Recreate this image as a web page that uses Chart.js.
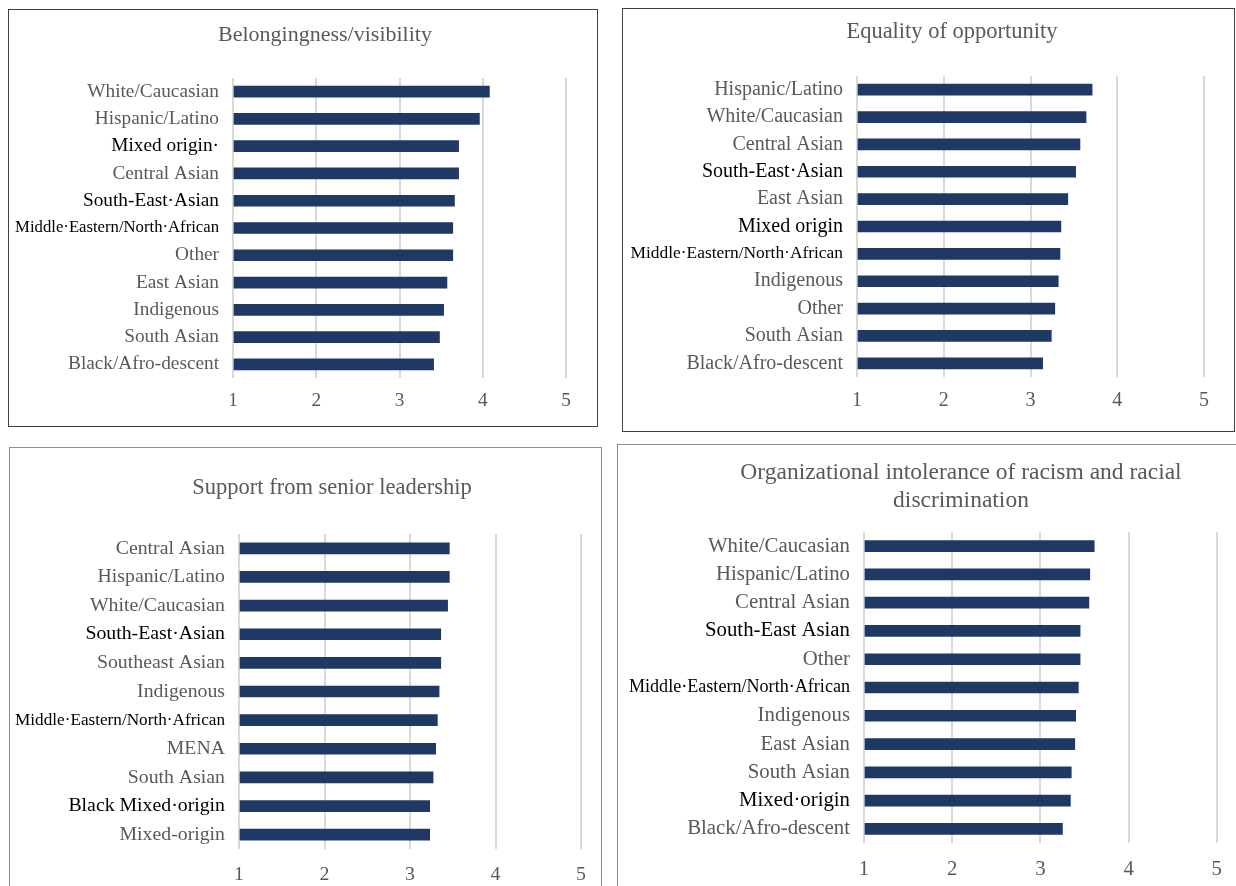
<!DOCTYPE html>
<html>
<head>
<meta charset="utf-8">
<script src="https://cdn.jsdelivr.net/npm/chart.js@4.4.1/dist/chart.umd.min.js"></script>
<style>
  html, body { margin: 0; padding: 0; background: #fff; overflow: hidden; }
  body { width: 1236px; height: 886px; position: relative; }
  .panel { position: absolute; border: 1px solid #404040; box-sizing: content-box; }
  .panel.light { border-color: #8c8c8c; }
  canvas { display: block; }
</style>
</head>
<body>
<div class="panel" id="p1" style="left:8px;top:9px;width:588px;height:416px;"><canvas id="chart1" width="588" height="416"></canvas></div>
<div class="panel" id="p2" style="left:622px;top:8px;width:611px;height:422px;"><canvas id="chart2" width="611" height="422"></canvas></div>
<div class="panel light" id="p3" style="left:9px;top:447px;width:591px;height:445px;"><canvas id="chart3" width="591" height="438"></canvas></div>
<div class="panel light" id="p4" style="left:617px;top:444px;width:618px;height:450px;"><canvas id="chart4" width="618" height="441"></canvas></div>

<script>
// Données (moyennes, échelle 1 à 5)
const belongingLabels = ['White/Caucasian', 'Hispanic/Latino', 'Mixed origin·', 'Central Asian', 'South-East·Asian',
    'Middle·Eastern/North·African', 'Other', 'East Asian', 'Indigenous', 'South Asian', 'Black/Afro-descent'];
const belongingValues = [4.08, 3.96, 3.71, 3.71, 3.66, 3.64, 3.64, 3.57, 3.53, 3.48, 3.41];

const equalityLabels = ['Hispanic/Latino', 'White/Caucasian', 'Central Asian', 'South-East·Asian', 'East Asian',
    'Mixed origin', 'Middle·Eastern/North·African', 'Indigenous', 'Other', 'South Asian', 'Black/Afro-descent'];
const equalityValues = [3.71, 3.64, 3.57, 3.52, 3.43, 3.35, 3.34, 3.32, 3.28, 3.24, 3.14];

const leadershipLabels = ['Central Asian', 'Hispanic/Latino', 'White/Caucasian', 'South-East·Asian', 'Southeast Asian',
    'Indigenous', 'Middle·Eastern/North·African', 'MENA', 'South Asian', 'Black Mixed·origin', 'Mixed-origin'];
const leadershipValues = [3.46, 3.46, 3.44, 3.36, 3.36, 3.34, 3.32, 3.30, 3.27, 3.23, 3.23];

const intoleranceLabels = ['White/Caucasian', 'Hispanic/Latino', 'Central Asian', 'South-East Asian', 'Other',
    'Middle·Eastern/North·African', 'Indigenous', 'East Asian', 'South Asian', 'Mixed·origin', 'Black/Afro-descent'];
const intoleranceValues = [3.61, 3.56, 3.55, 3.45, 3.45, 3.43, 3.40, 3.39, 3.35, 3.34, 3.25];

const xTicks = [1, 2, 3, 4, 5];

// Libellés collés en noir dans l'original
const blackLabels = new Set(['Mixed origin·', 'South-East·Asian', 'Middle·Eastern/North·African', 'Mixed origin',
    'Black Mixed·origin', 'South-East Asian', 'Mixed·origin']);

const serif = '"Liberation Serif", "Times New Roman", serif';
const grey = '#595959';
const navy = '#203864';

// Titre décentré comme dans l'original (le titre de Chart.js est toujours centré sur le canvas)
const offsetTitle = {
    id: 'offsetTitle',
    afterDraw(chart, args, opts) {
        const ctx = chart.ctx;
        ctx.save();
        ctx.fillStyle = grey;
        ctx.font = opts.size + 'px ' + serif;
        ctx.textAlign = 'center';
        ctx.textBaseline = 'middle';
        opts.lines.forEach((line, i) => ctx.fillText(line, opts.x, opts.y + i * opts.lh));
        ctx.restore();
    }
};

function drawPanel(id, title, labels, values, geo) {
    const canvas = document.getElementById(id);
    const W = canvas.width, H = canvas.height;

    new Chart(canvas.getContext('2d'), {
        type: 'bar',
        data: {
            labels: labels,
            datasets: [{
                data: values,
                backgroundColor: navy,
                barThickness: 11,
                base: 1
            }]
        },
        plugins: [offsetTitle],
        options: {
            indexAxis: 'y',
            responsive: false,
            animation: false,
            devicePixelRatio: 1,
            layout: { padding: { left: 0, top: geo.plotTop - geo.cy, bottom: 0, right: geo.cx + W - geo.plotRight } },
            plugins: {
                legend: { display: false },
                tooltip: { enabled: false },
                title: { display: false },
                offsetTitle: {
                    lines: Array.isArray(title) ? title : [title],
                    x: geo.titleX - geo.cx,
                    y: geo.titleY - geo.cy,
                    size: geo.titleSize,
                    lh: geo.titleLh
                }
            },
            scales: {
                x: {
                    min: 1,
                    max: 5,
                    afterBuildTicks: scale => { scale.ticks = xTicks.map(v => ({ value: v })); },
                    afterFit: scale => { scale.height = geo.cy + H - geo.plotBottom; },
                    grid: { color: '#d9d9d9', lineWidth: 2, drawTicks: false },
                    border: { display: false },
                    ticks: {
                        color: grey,
                        padding: geo.tickPad,
                        font: { family: serif, size: geo.labelSize }
                    }
                },
                y: {
                    afterFit: scale => { scale.width = geo.plotLeft - geo.cx; },
                    grid: { display: false, drawTicks: false },
                    border: { display: false },
                    ticks: {
                        autoSkip: false,
                        padding: 14,
                        color: c => blackLabels.has(labels[c.index]) ? '#000' : grey,
                        font: c => labels[c.index] === 'Middle·Eastern/North·African'
                            ? { family: serif, size: geo.menaSize }
                            : { family: serif, size: geo.labelSize }
                    }
                }
            }
        }
    });
}

document.addEventListener('DOMContentLoaded', function() {
    drawPanel('chart1', 'Belongingness/visibility', belongingLabels, belongingValues,
        { cx: 9, cy: 10, plotLeft: 233, plotRight: 566, plotTop: 78, plotBottom: 378, titleX: 325, titleY: 35,
          titleSize: 22, titleLh: 26, labelSize: 19.3, menaSize: 16.7, tickPad: 11 });
    drawPanel('chart2', 'Equality of opportunity', equalityLabels, equalityValues,
        { cx: 623, cy: 9, plotLeft: 857, plotRight: 1204, plotTop: 76, plotBottom: 377, titleX: 952, titleY: 32,
          titleSize: 22.5, titleLh: 27, labelSize: 20, menaSize: 17.4, tickPad: 12 });
    drawPanel('chart3', 'Support from senior leadership', leadershipLabels, leadershipValues,
        { cx: 10, cy: 448, plotLeft: 239, plotRight: 581, plotTop: 534, plotBottom: 849, titleX: 332, titleY: 488,
          titleSize: 22.5, titleLh: 27, labelSize: 19.8, menaSize: 17.2, tickPad: 14 });
    drawPanel('chart4', ['Organizational intolerance of racism and racial', 'discrimination'], intoleranceLabels, intoleranceValues,
        { cx: 618, cy: 445, plotLeft: 864, plotRight: 1223, plotTop: 532, plotBottom: 843, titleX: 961, titleY: 473,
          titleSize: 23.5, titleLh: 28, labelSize: 20.8, menaSize: 18.1, tickPad: 14 });
});
</script>
</body>
</html>
